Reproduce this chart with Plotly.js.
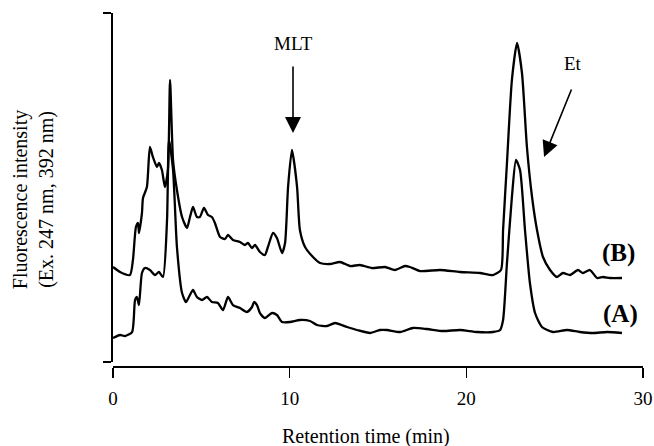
<!DOCTYPE html>
<html>
<head>
<meta charset="utf-8">
<script src="https://cdn.plot.ly/plotly-3.0.1.min.js"></script>
<style>html,body{margin:0;padding:0;background:#fff;}#chart{width:654px;height:446px;}</style>
</head>
<body>
<div id="chart"></div>
<script>
// Retention time (min) and fluorescence intensity (arbitrary units)
const timeB = [0, 0.40, 0.96, 1.13, 1.30, 1.42, 1.47, 1.64, 1.70, 1.92, 2.09, 2.26, 2.49, 2.60, 2.77, 2.94, 3.11, 3.23, 3.40, 3.62, 3.91, 4.19, 4.36, 4.53, 4.75, 4.92, 5.15, 5.38, 5.60, 5.77, 6.06, 6.34, 6.51, 6.79, 7.19, 7.47, 7.64, 7.87, 8.04, 8.32, 8.60, 8.77, 9.06, 9.28, 9.57, 9.74, 9.91, 10.13, 10.42, 10.58, 10.87, 11.32, 11.72, 12.28, 12.85, 13.42, 13.98, 14.66, 15.40, 15.96, 16.53, 16.81, 17.38, 18.51, 19.64, 20.77, 21.51, 21.96, 22.08, 22.30, 22.58, 22.87, 23.15, 23.43, 23.72, 24.00, 24.34, 24.74, 25.13, 25.47, 25.87, 26.32, 26.60, 27.00, 27.40, 27.74, 28.13, 28.81];
const signalB = [95, 90, 87, 102, 135, 139, 129, 149, 164, 175, 215, 205, 195, 199, 192, 175, 192, 282, 202, 172, 145, 134, 145, 155, 145, 145, 154, 147, 145, 139, 125, 123, 127, 122, 120, 117, 119, 114, 117, 110, 107, 115, 129, 124, 109, 119, 175, 212, 175, 132, 115, 105, 99, 98, 100, 96, 97, 94, 95, 92, 96, 95, 91, 92, 90, 89, 87, 92, 132, 199, 282, 319, 289, 215, 165, 132, 105, 92, 85, 89, 87, 92, 89, 92, 84, 85, 84, 84];

const timeA = [0, 0.40, 0.68, 1.08, 1.25, 1.36, 1.47, 1.64, 1.81, 2.09, 2.38, 2.60, 2.83, 3.06, 3.17, 3.40, 3.62, 3.91, 4.13, 4.30, 4.53, 4.75, 5.04, 5.32, 5.60, 5.94, 6.23, 6.51, 6.79, 7.19, 7.58, 7.87, 7.98, 8.15, 8.32, 8.60, 9.00, 9.28, 9.57, 10.02, 10.58, 11.15, 11.55, 12.11, 12.57, 13.25, 13.81, 14.55, 15.11, 15.51, 16.25, 16.98, 17.77, 18.68, 19.64, 20.60, 21.51, 21.91, 22.08, 22.30, 22.58, 22.81, 23.04, 23.32, 23.60, 23.89, 24.28, 24.91, 25.70, 26.43, 27.17, 27.96, 28.81];
const signalA = [24, 27, 26, 30, 62, 65, 57, 89, 94, 92, 87, 90, 85, 142, 222, 192, 115, 69, 60, 65, 72, 65, 62, 65, 60, 59, 52, 65, 57, 54, 50, 55, 60, 57, 49, 44, 49, 47, 40, 40, 42, 41, 37, 36, 39, 35, 32, 29, 32, 32, 30, 34, 33, 31, 32, 30, 30, 32, 42, 99, 165, 202, 192, 132, 79, 49, 35, 30, 32, 30, 29, 30, 29];

const xTicks = [0, 10, 20, 30];
const xTickText = ['0', '10', '20', '30'];

const font = 'Liberation Serif, Times New Roman, serif';
const traceStyle = {type: 'scatter', mode: 'lines', line: {color: '#000', width: 2.3, shape: 'spline', smoothing: 0.6}, hoverinfo: 'skip', showlegend: false};

const data = [
  Object.assign({x: timeA, y: signalA, name: '(A)'}, traceStyle),
  Object.assign({x: timeB, y: signalB, name: '(B)'}, traceStyle)
];

const layout = {
  width: 654, height: 446,
  margin: {l: 95, r: 11, t: 13, b: 80},
  paper_bgcolor: '#fff', plot_bgcolor: '#fff',
  font: {family: font, color: '#000', size: 19},
  showlegend: false,
  xaxis: {
    domain: [0.0328, 1], range: [0, 30], anchor: 'free', position: 0,
    showline: true, linecolor: '#000', linewidth: 1.5,
    ticks: 'outside', ticklen: 10, tickwidth: 1.5, tickcolor: '#000',
    tickvals: xTicks, ticktext: xTickText, tickfont: {size: 19, family: font},
    ticklabelstandoff: 5,
    showgrid: false, zeroline: false
  },
  yaxis: {
    domain: [0.0113, 1], range: [0, 349],
    showline: true, linecolor: '#000', linewidth: 1.5,
    ticks: 'outside', ticklen: 8, tickwidth: 1.5, tickcolor: '#000',
    tickvals: [0, 349], showticklabels: false,
    showgrid: false, zeroline: false
  },
  annotations: [
    {xref: 'paper', yref: 'paper', x: 0.495, y: -0.201, text: 'Retention time (min)', showarrow: false, xanchor: 'center', yanchor: 'middle', font: {size: 20, family: font}},
    {xref: 'paper', yref: 'paper', x: -0.113, y: 0.47, text: 'Fluorescence intensity<br>(Ex. 247 nm, 392 nm)', textangle: -90, showarrow: false, xanchor: 'center', yanchor: 'middle', font: {size: 20, family: font}},
    {x: 10.19, y: 319, text: 'MLT', showarrow: false, xanchor: 'center', yanchor: 'middle', font: {size: 19, family: font}},
    {x: 10.19, y: 229, text: '', showarrow: true, arrowhead: 2, arrowsize: 2, arrowwidth: 1.6, arrowcolor: '#000', ax: 0, ay: -68},
    {x: 26.04, y: 299, text: 'Et', showarrow: false, xanchor: 'center', yanchor: 'middle', font: {size: 19, family: font}},
    {x: 24.40, y: 205, text: '', showarrow: true, arrowhead: 2, arrowsize: 2, arrowwidth: 1.6, arrowcolor: '#000', ax: 28, ay: -69},
    {x: 28.64, y: 109, text: '<b>(B)</b>', showarrow: false, xanchor: 'center', yanchor: 'middle', font: {size: 25, family: font}},
    {x: 28.75, y: 48, text: '<b>(A)</b>', showarrow: false, xanchor: 'center', yanchor: 'middle', font: {size: 25, family: font}}
  ]
};

Plotly.newPlot('chart', data, layout, {displayModeBar: false, staticPlot: true});
</script>
</body>
</html>
